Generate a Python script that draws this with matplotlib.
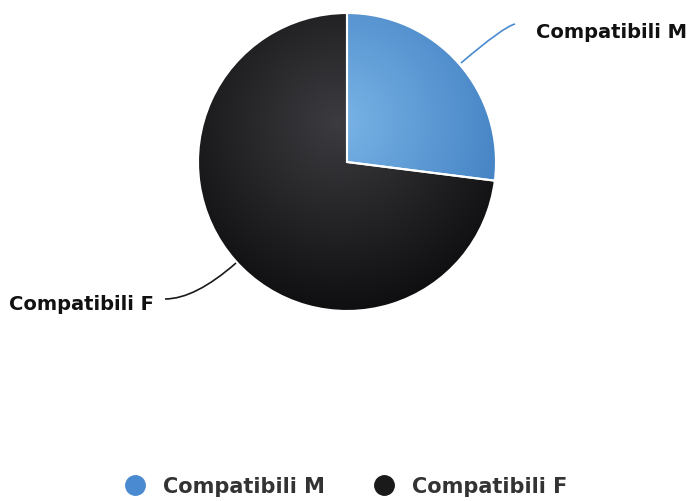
import numpy as np
import matplotlib
matplotlib.use("Agg")
import matplotlib.pyplot as plt
from matplotlib.lines import Line2D
from matplotlib.path import Path
from matplotlib.patches import PathPatch

categories = ["Compatibili M", "Compatibili F"]
values = [27, 73]
colors_center = ["#7ab4e6", "#3c3c40"]
colors_edge = ["#3d7cc0", "#0e0e10"]
legend_colors = ["#4a8ad0", "#1a1a1a"]

W, H = 689, 502
fig = plt.figure(figsize=(W / 100, H / 100), dpi=100)
ax = fig.add_axes([0, 0, 1, 1])

cx, cy, r = 347, H - 163, 149
wedges, _ = ax.pie(values, center=(cx, cy), radius=r, startangle=90,
                   counterclock=False, colors=legend_colors,
                   wedgeprops=dict(edgecolor="white", linewidth=1.5),
                   frame=True)
ax.set_xlim(0, W)
ax.set_ylim(0, H)
ax.set_aspect("equal")
ax.axis("off")

# radial gradient fill clipped to each wedge
yy, xx = np.mgrid[0:H, 0:W]
gx, gy = cx - 10, cy + 40
d = np.sqrt((xx - gx) ** 2 + (yy - gy) ** 2) / (r * 1.3)
d = np.clip(d, 0, 1)
for w, c0, c1 in zip(wedges, colors_center, colors_edge):
    a = np.array(matplotlib.colors.to_rgb(c0))
    b = np.array(matplotlib.colors.to_rgb(c1))
    img = a[None, None, :] * (1 - d[..., None]) + b[None, None, :] * d[..., None]
    im = ax.imshow(img, extent=(0, W, 0, H), origin="lower", zorder=1.5,
                   interpolation="bilinear")
    im.set_clip_path(w)
    w.set_facecolor("none")
    w.set_zorder(2)

# leader lines
def curve(p0, p1, p2, color):
    path = Path([p0, p1, p2], [Path.MOVETO, Path.CURVE3, Path.CURVE3])
    ax.add_patch(PathPatch(path, facecolor="none", edgecolor=color, lw=1.2, zorder=3))

curve((461, H - 64), (503, H - 28), (515, H - 25), "#4a8ad0")
curve((236, H - 264), (195, H - 300), (165, H - 300), "#1a1a1a")

ax.text(536, H - 32, categories[0], fontsize=14, fontweight="bold",
        color="#111111", ha="left", va="center")
ax.text(9, H - 305, categories[1], fontsize=14, fontweight="bold",
        color="#111111", ha="left", va="center")

handles = [Line2D([], [], marker="o", linestyle="none", markersize=14,
                  markerfacecolor=c, markeredgecolor=c) for c in legend_colors]
ax.legend(handles, categories, loc="center", bbox_to_anchor=(346 / W, 1 - 487 / H),
          ncol=2, frameon=False, prop=dict(size=15, weight="bold"),
          labelcolor="#333333",
          handletextpad=0.85, columnspacing=2.3, handlelength=1.0)

fig.savefig("out.png", dpi=100)
